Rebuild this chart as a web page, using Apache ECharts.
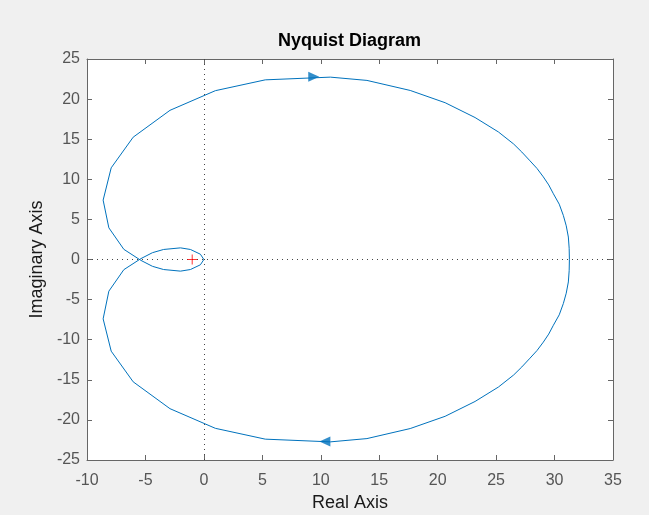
<!DOCTYPE html>
<html>
<head>
<meta charset="utf-8">
<script src="https://cdn.jsdelivr.net/npm/echarts@6/dist/echarts.min.js"></script>
<style>
html,body{margin:0;padding:0;background:#f0f0f0;}
#chart{width:649px;height:515px;}
</style>
</head>
<body>
<div id="chart"></div>
<script>
// Nyquist contour: real and imaginary parts, traced in order
var reVals = [31.27, 31.25, 31.18, 31.0, 30.75, 30.4, 29.9, 29.5, 29.04, 28.5, 27.9, 27.2, 26.5, 25.2, 23.2, 20.64, 17.65, 13.95, 10.82, 5.25, 0.98, -2.9, -6.05, -7.93, -8.62, -8.13, -6.85, -5.4, -4.4, -3.45, -2.0, -1.15, -0.3, 0.0,
              -0.3, -1.15, -2.0, -3.45, -4.4, -5.4, -6.85, -8.13, -8.62, -7.93, -6.05, -2.9, 0.98, 5.25, 10.82, 13.95, 17.65, 20.64, 23.2, 25.2, 26.5, 27.2, 27.9, 28.5, 29.04, 29.5, 29.9, 30.4, 30.75, 31.0, 31.18, 31.25, 31.27];
var imVals = [0.0, -1.4, -2.8, -4.2, -5.5, -6.9, -8.2, -9.3, -10.3, -11.35, -12.3, -13.4, -14.4, -15.9, -17.7, -19.55, -21.08, -22.33, -22.74, -22.4, -21.05, -18.6, -15.25, -11.43, -7.4, -3.95, -1.27, 0.1, 0.85, 1.25, 1.45, 1.25, 0.66, 0.0,
              -0.66, -1.25, -1.45, -1.25, -0.85, -0.1, 1.27, 3.95, 7.4, 11.43, 15.25, 18.6, 21.05, 22.4, 22.74, 22.33, 21.08, 19.55, 17.7, 15.9, 14.4, 13.4, 12.3, 11.35, 10.3, 9.3, 8.2, 6.9, 5.5, 4.2, 2.8, 1.4, 0.0];
// direction arrows [re, im, rotation]
var arrowRe = [9.4, 10.35];
var arrowIm = [22.8, -22.7];
var arrowRot = [-90, 90];
// critical point
var critical = [-1, 0];
// axis ticks
var xMin = -10, xMax = 35, xStep = 5;
var yMin = -25, yMax = 25, yStep = 5;

var curve = reVals.map(function (r, i) { return [r, imVals[i]]; });
var arrows = arrowRe.map(function (r, i) { return { value: [r, arrowIm[i]], symbolRotate: arrowRot[i] }; });

var lineColor = '#0072BD';
var axisColor = '#666666';
var labelColor = '#555555';
var fontFam = '"Liberation Sans", Arial, Helvetica, sans-serif';

function xAx(pos, showLabel) {
  return {
    type: 'value', position: pos, min: xMin, max: xMax, interval: xStep,
    name: showLabel ? 'Real Axis' : '', nameLocation: 'middle', nameGap: 33,
    nameTextStyle: { color: '#1a1a1a', fontSize: 18, fontFamily: fontFam },
    axisLine: { show: true, onZero: false, lineStyle: { color: axisColor, width: 1 } },
    axisTick: { show: true, inside: true, length: 5, lineStyle: { color: axisColor } },
    axisLabel: { show: showLabel, color: labelColor, fontSize: 16, fontFamily: fontFam, margin: 13 },
    splitLine: { show: false }
  };
}
function yAx(pos, showLabel) {
  return {
    type: 'value', position: pos, min: yMin, max: yMax, interval: yStep,
    name: showLabel ? 'Imaginary Axis' : '', nameLocation: 'middle', nameGap: 33,
    nameTextStyle: { color: '#1a1a1a', fontSize: 18, fontFamily: fontFam },
    axisLine: { show: true, onZero: false, lineStyle: { color: axisColor, width: 1 } },
    axisTick: { show: true, inside: true, length: 5, lineStyle: { color: axisColor } },
    axisLabel: { show: showLabel, color: labelColor, fontSize: 16, fontFamily: fontFam, margin: 7 },
    splitLine: { show: false }
  };
}

var chart = echarts.init(document.getElementById('chart'), null, { renderer: 'canvas' });
chart.setOption({
  backgroundColor: '#f0f0f0',
  animation: false,
  title: {
    text: 'Nyquist Diagram', left: 273, top: 27,
    textStyle: { color: '#000', fontSize: 18, fontWeight: 'bold', fontFamily: fontFam }
  },
  grid: { left: 87, right: 36, top: 59, bottom: 55, show: true, backgroundColor: '#ffffff', borderWidth: 0, containLabel: false, outerBoundsMode: 'none' },
  xAxis: [xAx('bottom', true), xAx('top', false)],
  yAxis: [yAx('left', true), yAx('right', false)],
  series: [
    {
      type: 'line', data: curve, showSymbol: false, smooth: false,
      lineStyle: { color: lineColor, width: 1 },
      markLine: {
        silent: true, symbol: 'none', label: { show: false },
        lineStyle: { color: '#444', width: 1, type: [1, 4] },
        data: [{ xAxis: 0 }, { yAxis: 0 }]
      },
      z: 3
    },
    {
      type: 'scatter', data: arrows, symbol: 'triangle', symbolSize: [10, 11],
      itemStyle: { color: lineColor }, z: 4
    },
    {
      type: 'scatter', data: [critical],
      symbol: 'path://M0,4.5h10v1h-10z M4.5,0h1v10h-1z', symbolSize: 10,
      itemStyle: { color: '#ff0000' }, z: 5
    }
  ]
});
</script>
</body>
</html>
